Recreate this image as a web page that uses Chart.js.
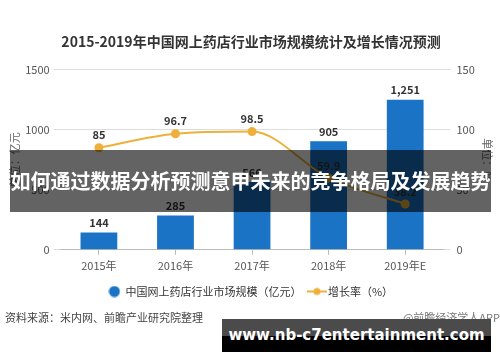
<!DOCTYPE html>
<html><head><meta charset="utf-8">
<script src="https://cdn.jsdelivr.net/npm/chart.js@4/dist/chart.umd.min.js"></script>
<style>
html,body{margin:0;padding:0;background:#fff;}
#wrap{position:relative;width:500px;height:362px;overflow:hidden;font-family:"Noto Sans CJK SC","Noto Sans",sans-serif;}
#c{position:absolute;left:0;top:0;}
.src{position:absolute;left:5px;top:309px;font-size:11px;color:#444;}
.wm{position:absolute;right:0px;top:309px;font-size:11px;color:#777;}
.band{position:absolute;left:10px;top:150px;width:481px;height:62px;background:rgba(0,0,0,0.61);color:#fff;font-weight:bold;font-size:20px;line-height:62px;text-align:center;white-space:nowrap;}
.foot{position:absolute;left:222px;top:319px;width:269px;height:33px;background:linear-gradient(#4b4b4b 0,#4b4b4b 17px,#000 17px,#000 100%);color:#fff;font-weight:bold;font-size:15px;line-height:33px;text-align:center;white-space:nowrap;font-family:"DejaVu Sans","Noto Sans",sans-serif;}
</style></head>
<body>
<div id="wrap">
<canvas id="c" width="500" height="362"></canvas>
<div class="src">资料来源：米内网、前瞻产业研究院整理</div>
<div class="wm">@前瞻经济学人APP</div>
<div class="band">如何通过数据分析预测意甲未来的竞争格局及发展趋势</div>
<div class="foot">www.nb-c7entertainment.com</div>
</div>
<script>
const categories = ["2015年","2016年","2017年","2018年","2019年E"];
const marketSize = [144, 285, 566, 905, 1251];
const growthRate = [85, 96.7, 98.5, 59.9, 38.2];
const leftTicks = [0, 500, 1000, 1500];
const rightTicks = [0, 50, 100, 150];

const FONT = '"Noto Sans CJK SC","Noto Sans",sans-serif';
const BLUE = '#1a73c4';
const GOLD = '#eeb03a';

const lineIcon = document.createElement('canvas');
lineIcon.width = 22; lineIcon.height = 10;
(function(){
  const g = lineIcon.getContext('2d');
  g.strokeStyle = GOLD; g.lineWidth = 2;
  g.beginPath(); g.moveTo(1,5); g.lineTo(21,5); g.stroke();
  g.fillStyle = GOLD; g.beginPath(); g.arc(11,5,3.5,0,Math.PI*2); g.fill();
})();
const dotIcon = document.createElement('canvas');
dotIcon.width = 12; dotIcon.height = 12;
(function(){
  const g = dotIcon.getContext('2d');
  g.fillStyle = BLUE; g.beginPath(); g.arc(6,6,5.5,0,Math.PI*2); g.fill();
})();

const labelPlugin = {
  id: 'valueLabels',
  afterDatasetsDraw(chart){
    const ctx = chart.ctx;
    ctx.save();
    ctx.font = 'bold 11px ' + FONT;
    ctx.fillStyle = '#333';
    ctx.textAlign = 'center';
    ctx.textBaseline = 'bottom';
    chart.data.datasets.forEach((ds, i) => {
      const meta = chart.getDatasetMeta(i);
      meta.data.forEach((el, j) => {
        const v = ds.data[j];
        const txt = ds.type === 'bar' ? v.toLocaleString('en-US') : String(v);
        const off = ds.type === 'bar' ? 4 : 7;
        ctx.fillText(txt, el.x, el.y - off);
      });
    });
    ctx.restore();
  }
};

Chart.defaults.font.family = FONT;

new Chart(document.getElementById('c'), {
  data: {
    labels: categories,
    datasets: [
      {
        type: 'bar', label: '中国网上药店行业市场规模（亿元）', data: marketSize, yAxisID: 'y',
        backgroundColor: BLUE, barPercentage: 0.48, categoryPercentage: 1, order: 1
      },
      {
        type: 'line', label: '增长率（%）', data: growthRate, yAxisID: 'y1',
        borderColor: GOLD, backgroundColor: GOLD, borderWidth: 2,
        pointRadius: 4.5, pointBackgroundColor: GOLD, pointBorderWidth: 0,
        tension: 0.4, cubicInterpolationMode: 'monotone', order: 0
      }
    ]
  },
  options: {
    responsive: false, animation: false,
    layout: { padding: { left: 8, right: 6, top: 8, bottom: 55 } },
    plugins: {
      title: { display: true, text: '2015-2019年中国网上药店行业市场规模统计及增长情况预测',
        font: { size: 14, weight: 'bold' }, color: '#333', padding: { top: 25, bottom: 20 } },
      legend: {
        position: 'bottom',
        labels: {
          color: '#333', font: { size: 11 }, usePointStyle: true, padding: 10, boxHeight: 10,
          generateLabels(chart){
            return chart.data.datasets.map((ds, i) => ({
              text: ds.label, datasetIndex: i, hidden: false,
              pointStyle: ds.type === 'bar' ? dotIcon : lineIcon,
              fillStyle: ds.type === 'bar' ? BLUE : GOLD, strokeStyle: 'transparent', lineWidth: 0,
              fontColor: '#333'
            }));
          }
        }
      },
      tooltip: { enabled: false }
    },
    scales: {
      x: {
        grid: { display: true, drawOnChartArea: false, offset: false, tickLength: 5, color: '#bbb' },
        border: { color: '#bbb' },
        ticks: { color: '#555', font: { size: 11 }, padding: 4 }
      },
      y: {
        position: 'left', min: 0, max: 1500,
        afterBuildTicks(s){ s.ticks = leftTicks.map(v => ({ value: v })); },
        grid: { color: '#ddd', tickLength: 7 },
        border: { display: false },
        ticks: { color: '#555', font: { size: 11 }, padding: 4, callback: v => String(v) },
        title: { display: true, text: '单位：亿元', color: '#666', font: { size: 11 }, padding: 0 }
      },
      y1: {
        position: 'right', min: 0, max: 150,
        afterBuildTicks(s){ s.ticks = rightTicks.map(v => ({ value: v })); },
        grid: { drawOnChartArea: false, color: '#ddd', tickLength: 7 },
        border: { display: false },
        ticks: { color: '#555', font: { size: 11 }, padding: 6, callback: v => String(v) },
        title: { display: true, text: '单位：%', color: '#666', font: { size: 11 }, padding: 0 }
      }
    }
  },
  plugins: [labelPlugin]
});
</script>
</body></html>
